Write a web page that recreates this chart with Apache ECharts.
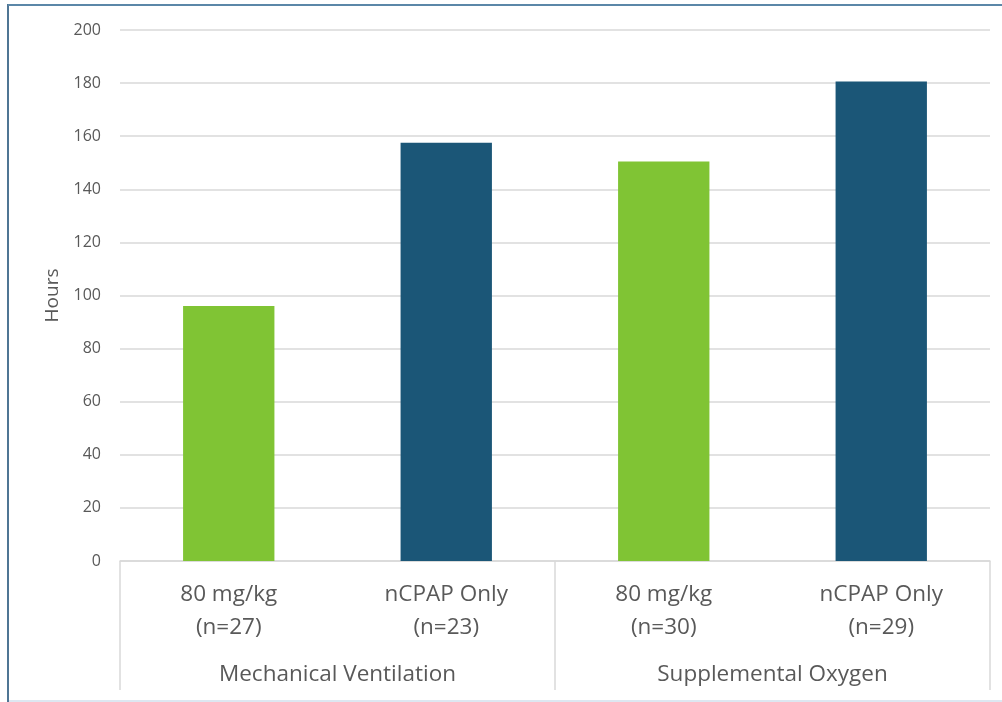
<!DOCTYPE html>
<html>
<head>
<meta charset="utf-8">
<script src="https://cdn.jsdelivr.net/npm/echarts@6/dist/echarts.min.js"></script>
<style>
html,body{margin:0;padding:0;background:#fff;}
#chart{width:1002px;height:702px;}
</style>
</head>
<body>
<div id="chart"></div>
<script>
const subCategories = ['80 mg/kg\n(n=27)', 'nCPAP Only\n(n=23)', '80 mg/kg\n(n=30)', 'nCPAP Only\n(n=29)'];
const groups = ['Mechanical Ventilation', 'Supplemental Oxygen'];
const hours = [96, 157.5, 150.5, 180.6];
const yTicks = { min: 0, max: 200, interval: 20 };
const yTitle = 'Hours';

const GREEN = '#80c434';
const BLUE = '#1b5677';
const FONT = 'Open Sans';

const chart = echarts.init(document.getElementById('chart'), null, { renderer: 'canvas' });
chart.setOption({
  backgroundColor: '#ffffff',
  animation: false,
  textStyle: { fontFamily: FONT },
  grid: { left: 120, right: 12, top: 30, bottom: 141 },
  graphic: [
    { type: 'line', shape: { x1: 8, y1: 4, x2: 8, y2: 702 }, style: { stroke: '#4f7594', lineWidth: 2 } },
    { type: 'line', shape: { x1: 8, y1: 5, x2: 1002, y2: 5 }, style: { stroke: '#5b87a8', lineWidth: 2 } },
    { type: 'line', shape: { x1: 9, y1: 701, x2: 1002, y2: 701 }, style: { stroke: '#dde7f1', lineWidth: 2 } }
  ],
  xAxis: [
    {
      type: 'category',
      data: subCategories,
      position: 'bottom',
      axisLine: { show: true, lineStyle: { color: '#d9d9d9', width: 1.5 } },
      axisTick: { show: false },
      axisLabel: { color: '#595959', fontSize: 22.5, lineHeight: 33, margin: 17, fontFamily: FONT, interval: 0 }
    },
    {
      type: 'category',
      data: groups,
      position: 'bottom',
      axisLine: { show: false },
      axisTick: { show: true, length: 129, lineStyle: { color: '#d9d9d9', width: 1.5 } },
      axisLabel: { color: '#595959', fontSize: 22.5, lineHeight: 33, margin: 97, fontFamily: FONT, interval: 0 }
    }
  ],
  yAxis: {
    type: 'value',
    min: yTicks.min,
    max: yTicks.max,
    interval: yTicks.interval,
    name: yTitle,
    nameLocation: 'middle',
    nameRotate: 90,
    nameGap: 58,
    nameTextStyle: { color: '#595959', fontSize: 19, fontFamily: FONT },
    axisLine: { show: false },
    axisTick: { show: false },
    axisLabel: { color: '#595959', fontSize: 16, margin: 19, fontFamily: FONT },
    splitLine: { lineStyle: { color: '#d9d9d9', width: 1.5 } }
  },
  series: [
    {
      type: 'bar',
      xAxisIndex: 0,
      data: hours,
      barWidth: '42%',
      itemStyle: {
        color: function (p) { return p.dataIndex % 2 === 0 ? GREEN : BLUE; }
      }
    }
  ]
});
</script>
</body>
</html>
